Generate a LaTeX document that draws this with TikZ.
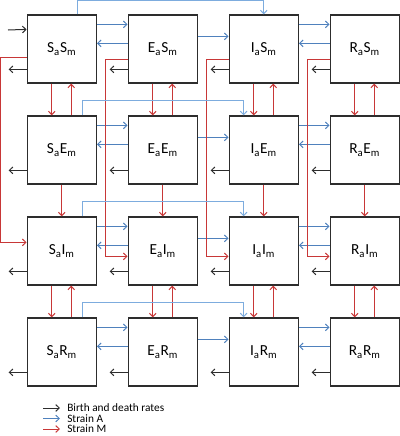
\documentclass[tikz,border=0pt]{standalone}
\usepackage{fontspec}
\setmainfont{Carlito}
\usetikzlibrary{arrows.meta,calc}
\definecolor{lineblue}{RGB}{79,129,189}
\definecolor{skipblue}{RGB}{125,172,222}
\definecolor{linered}{RGB}{200,55,55}
\definecolor{linegray}{RGB}{45,45,45}
\begin{document}
\begin{tikzpicture}[x=0.75pt,y=-0.75pt,
  box/.style={draw=linegray,line width=0.95pt,fill=white,minimum width=51.75pt,minimum height=51pt,inner sep=0pt,font=\fontsize{11.5}{13}\selectfont},
  tipped/.style={-{Straight Barb[length=2.6pt,width=5pt]}},
  blk/.style={tipped,draw=linegray,line width=0.75pt},
  blu/.style={tipped,draw=lineblue,line width=0.75pt},
  sblu/.style={tipped,draw=skipblue,line width=0.75pt},
  rd/.style={tipped,draw=linered,line width=0.75pt},
  legend/.style={anchor=west,inner sep=0pt,font=\fontsize{8.5}{9}\selectfont}
]
\useasboundingbox (0,0) rectangle (400,436);
% boxes
\foreach \c/\x/\a in {1/61.75/S,2/162.75/E,3/263.75/I,4/364.75/R}{
  \foreach \r/\y/\m in {1/49/S,2/150/E,3/251/I,4/352/R}{
    \node[box] (n\r\c) at (\x,\y) {\a\textsubscript{a}\m\textsubscript{m}};
  }
}
% horizontal strain A arrows and death arrows
\foreach \r in {1,...,4}{
  \draw[blu] ($(n\r1.north east)+(0,10)$) -- ($(n\r2.north west)+(0,10)$);
  \draw[blu] ($(n\r2.north west)+(0,29)$) -- ($(n\r1.north east)+(0,29)$);
  \draw[blu] ($(n\r2.north east)+(0,22)$) -- ($(n\r3.north west)+(0,22)$);
  \draw[blu] ($(n\r3.north east)+(0,10)$) -- ($(n\r4.north west)+(0,10)$);
  \draw[blu] ($(n\r4.north west)+(0,29)$) -- ($(n\r3.north east)+(0,29)$);
  \foreach \c in {1,...,4}{
    \coordinate (o\r\c) at ($(n\r\c.north west)+(-18,55)$);
    \draw[blk] ($(n\r\c.north west)+(0,55)$) -- (o\r\c);
  }
}
% birth
\coordinate (birth) at (8,30);
\draw[blk] (birth) -- ($(n11.north west)+(0,15)$);
% vertical strain M arrows
\foreach \c in {1,...,4}{
  \foreach \r/\s in {1/2,3/4}{
    \draw[rd] ($(n\r\c.south)+(-10,0)$) -- ($(n\s\c.north)+(-10,0)$);
    \draw[rd] ($(n\s\c.north)+(9.5,0)$) -- ($(n\r\c.south)+(9.5,0)$);
  }
  \draw[rd] (n2\c.south) -- (n3\c.north);
}
% strain M skip lines
\draw[rd] ($(n11.north west)+(0,43)$) -- ++(-26,0) |- ($(n31.north west)+(0,26)$);
\foreach \c in {2,3,4}{
  \draw[rd] ($(n1\c.north west)+(0,45)$) -- ++(-22,0) |- ($(n3\c.north west)+(0,40)$);
}
% strain A skip lines
\draw[sblu] ($(n11.north)+(15.5,0)$) -- ++(0,-14) -| (n13.north);
\foreach \r in {2,3,4}{
  \draw[sblu] ($(n\r1.north)+(21,0)$) -- ++(0,-15) -| ($(n\r3.north west)+(15,0)$);
}
% legend
\coordinate (la) at (43,408); \coordinate (lb) at (60,408);
\coordinate (lc) at (43,418.5); \coordinate (ld) at (60,418.5);
\coordinate (le) at (43,429); \coordinate (lf) at (60,429);
\draw[blk] (la) -- (lb);
\draw[blu] (lc) -- (ld);
\draw[rd] (le) -- (lf);
\node[legend] (t1) at (67,408) {Birth and death rates};
\node[legend] (t2) at (67,418.5) {Strain A};
\node[legend] (t3) at (67,429) {Strain M};
\end{tikzpicture}
\end{document}
